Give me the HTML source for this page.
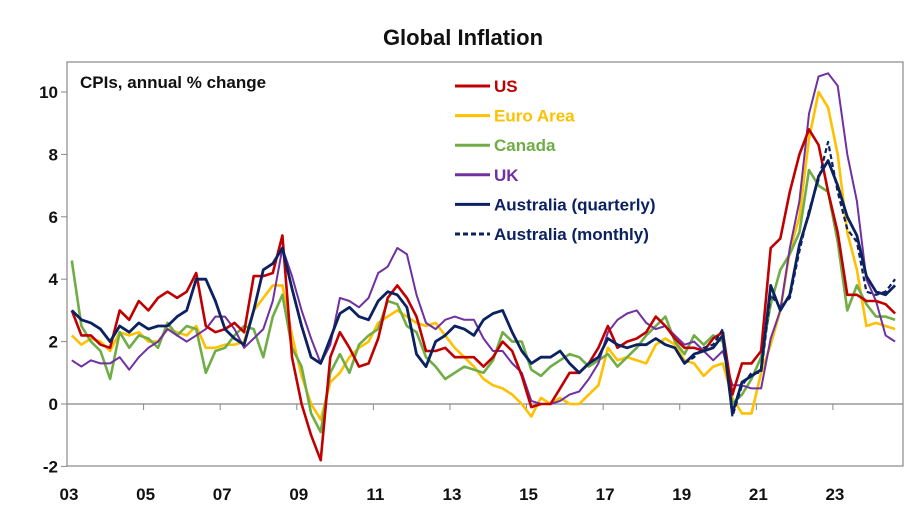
<!DOCTYPE html>
<html><head><meta charset="utf-8"><style>
body{margin:0;background:#fff;font-family:"Liberation Sans",Arial,sans-serif}
svg text{font-family:"Liberation Sans",Arial,sans-serif;font-weight:bold}
</style></head><body>
<svg id="chart" width="918" height="522" xmlns="http://www.w3.org/2000/svg">
<text x="463" y="45" text-anchor="middle" font-size="22" fill="#111">Global Inflation</text>
<rect x="67" y="62" width="836" height="404" fill="none" stroke="#888" stroke-width="1.2"/>
<text x="80" y="88" font-size="17" fill="#111">CPIs, annual % change</text>
<g id="axes"></g><g id="series"></g><g id="legend"></g>
</svg>
<script>
const yTicks=[-2,0,2,4,6,8,10];
const yTickLabels=["-2","0","2","4","6","8","10"];
const xTickYears=[2003,2005,2007,2009,2011,2013,2015,2017,2019,2021,2023];
const xTickLabels=["03","05","07","09","11","13","15","17","19","21","23"];
const startYear=2003;
const us=[3.0,2.2,2.2,1.9, 1.8,3.0,2.7,3.3, 3.0,3.4,3.6,3.4, 3.6,4.2,2.5,2.3, 2.4,2.6,2.3,4.1, 4.1,4.2,5.4,1.5, 0.0,-1.0,-1.8,1.5, 2.3,1.8,1.2,1.3, 2.1,3.4,3.8,3.4, 2.8,1.7,1.7,1.8, 1.5,1.5,1.5,1.2, 1.5,2.0,1.7,0.9, -0.1,0.0,0.0,0.5, 1.0,1.0,1.3,1.8, 2.5,1.8,2.0,2.1, 2.3,2.8,2.5,2.1, 1.8,1.8,1.7,2.1, 2.3,0.3,1.3,1.3, 1.7,5.0,5.3,6.8, 8.0,8.8,8.3,6.8, 5.5,3.5,3.5,3.3, 3.3,3.2,2.9];
const euro=[2.2,1.9,2.1,2.0, 1.7,2.3,2.2,2.3, 2.0,2.0,2.4,2.3, 2.2,2.5,1.8,1.8, 1.9,1.9,2.0,3.0, 3.4,3.8,3.8,2.2, 0.9,0.0,-0.5,0.7, 1.0,1.5,1.8,2.0, 2.6,2.8,3.0,2.8, 2.6,2.5,2.6,2.2, 1.8,1.5,1.2,0.8, 0.6,0.5,0.3,0.0, -0.4,0.2,0.0,0.2, 0.0,0.0,0.3,0.6, 1.8,1.4,1.5,1.4, 1.3,1.9,2.1,1.9, 1.4,1.3,0.9,1.2, 1.3,0.2,-0.3,-0.3, 1.0,1.9,3.0,4.9, 6.0,8.5,10.0,9.5, 8.0,5.5,4.3,2.5, 2.6,2.5,2.4];
const canada=[4.6,2.5,2.0,1.7, 0.8,2.3,1.8,2.2, 2.1,1.8,2.6,2.2, 2.5,2.4,1.0,1.7, 1.8,2.2,2.5,2.4, 1.5,2.8,3.5,1.8, 1.2,-0.3,-0.9,1.0, 1.6,1.0,1.9,2.2, 2.4,3.3,3.2,2.5, 2.3,1.5,1.2,0.8, 1.0,1.2,1.1,1.0, 1.4,2.3,2.0,2.0, 1.1,0.9,1.2,1.4, 1.6,1.5,1.2,1.4, 1.6,1.2,1.5,1.8, 2.2,2.5,2.8,2.0, 1.6,2.2,1.9,2.2, 2.0,0.0,0.3,0.8, 1.5,3.2,4.3,4.8, 5.5,7.5,7.0,6.8, 5.2,3.0,3.8,3.2, 2.8,2.8,2.7];
const uk=[1.4,1.2,1.4,1.3, 1.3,1.5,1.1,1.5, 1.8,2.0,2.4,2.2, 2.0,2.2,2.4,2.8, 2.8,2.4,1.8,2.1, 2.4,3.3,5.0,4.1, 3.0,2.1,1.3,1.9, 3.4,3.3,3.1,3.4, 4.2,4.4,5.0,4.8, 3.5,2.6,2.4,2.7, 2.8,2.7,2.7,2.1, 1.7,1.7,1.3,1.0, 0.1,0.0,0.0,0.1, 0.3,0.4,0.8,1.3, 2.3,2.7,2.9,3.0, 2.6,2.4,2.5,2.2, 1.9,2.0,1.7,1.4, 1.7,0.6,0.6,0.5, 0.5,2.1,3.0,5.0, 6.5,9.3,10.5,10.6, 10.2,8.0,6.5,4.0, 3.3,2.2,2.0];
const ausQ=[3.0,2.7,2.6,2.4, 2.0,2.5,2.3,2.6, 2.4,2.5,2.5,2.8, 3.0,4.0,4.0,3.3, 2.4,2.1,1.9,3.0, 4.3,4.5,5.0,3.7, 2.5,1.5,1.3,2.1, 2.9,3.1,2.8,2.7, 3.3,3.6,3.5,3.1, 1.6,1.2,2.0,2.2, 2.5,2.4,2.2,2.7, 2.9,3.0,2.3,1.7, 1.3,1.5,1.5,1.7, 1.3,1.0,1.3,1.5, 2.1,1.9,1.8,1.9, 1.9,2.1,1.9,1.8, 1.3,1.6,1.7,1.8, 2.2,-0.3,0.7,0.9, 1.1,3.8,3.0,3.5, 5.1,6.1,7.3,7.8, 7.0,6.0,5.4,4.1, 3.6,3.5,3.8];
const ausMStart=2019;
const ausM=[1.3,1.5,1.8,1.9, 2.4,-0.4,0.6,1.0, 1.0,3.5,3.1,3.4, 4.9,6.2,7.2,8.4, 6.8,5.6,5.2,3.6, 3.5,3.6,4.0];

const L=67,R=903,T=62,B=466,yMin=-2,yMax=11,x0=2003,x1=2024.83;
const xs=yr=>L+(yr-x0)/(x1-x0)*(R-L);
const ys=v=>404-v*31.2;
const NS='http://www.w3.org/2000/svg';
function mk(tag,attrs,parent){const e=document.createElementNS(NS,tag);for(const k in attrs)e.setAttribute(k,attrs[k]);parent.appendChild(e);return e;}
const axes=document.getElementById('axes');
let zl=mk('line',{x1:L,x2:R,y1:ys(0),y2:ys(0),stroke:'#888','stroke-width':1.2},axes);


yTicks.forEach((v,i)=>{
 let t=mk('line',{x1:L-6,x2:L,y1:ys(v),y2:ys(v),stroke:'#888'},axes);
 
 
 let tx=mk('text',{x:58,y:ys(v)+6,'text-anchor':'end','font-size':17,fill:'#111'},axes);
 tx.textContent=yTickLabels[i];
 
 
});
xTickYears.forEach((yr,i)=>{
 let t=mk('line',{x1:xs(yr),x2:xs(yr),y1:ys(0),y2:ys(0)+6,stroke:'#888'},axes);
 
 
 let tx=mk('text',{x:xs(yr)+2,y:500,'text-anchor':'middle','font-size':17,fill:'#111'},axes);
 tx.textContent=xTickLabels[i];
 
 
});
const sg=document.getElementById('series');
function line(arr,start,color,w,dash,name){
 const d=arr.map((v,i)=>(i?'L':'M')+xs(start+i/4+0.125).toFixed(1)+','+ys(v).toFixed(1)).join(' ');
 const p=mk('path',{d:d,fill:'none',stroke:color,'stroke-width':w,'stroke-linejoin':'round'},sg);
 if(dash)p.setAttribute('stroke-dasharray',dash);
 
 
}
line(euro,startYear,'#FFC000',2.6,null,'euro-area-line');
line(canada,startYear,'#70AD47',2.6,null,'canada-line');
line(uk,startYear,'#7030A0',2,null,'uk-line');
line(us,startYear,'#C00000',2.6,null,'us-line');
line(ausQ,startYear,'#0B2160',2.8,null,'australia-quarterly-line');
line(ausM,ausMStart,'#0B2160',2.2,'5,3','australia-monthly-line');
const lg=document.getElementById('legend');
const items=[['US','#C00000',null],['Euro Area','#FFC000',null],['Canada','#70AD47',null],['UK','#7030A0',null],['Australia (quarterly)','#0B2160',null],['Australia (monthly)','#0B2160','5,3']];
const tcol=['#C00000','#FFC000','#70AD47','#7030A0','#0B2160','#0B2160'];
items.forEach((it,i)=>{
 const y=86+i*29.6;
 const ln=mk('line',{x1:455,x2:490,y1:y,y2:y,stroke:it[1],'stroke-width':3},lg);
 if(it[2])ln.setAttribute('stroke-dasharray',it[2]);
 
 
 const tx=mk('text',{x:494,y:y+6,'font-size':17,fill:tcol[i]},lg);
 tx.textContent=it[0];
 
 
});
</script>
</body></html>
